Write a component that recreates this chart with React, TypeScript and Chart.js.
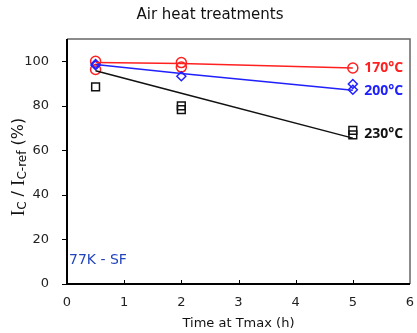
import React, { useEffect, useRef } from "react";
import { Chart, registerables } from "chart.js";

Chart.register(...registerables);

const hours = [0.5, 2, 5];
const fit170 = [99.4, 99.0, 97.0];
const fit200 = [98.5, 94.5, 87.0];
const fit230 = [95.7, 85.6, 65.5];

const m170x = [0.5, 0.5, 2, 2, 5];
const m170y = [100.0, 96.3, 99.4, 97.4, 97.0];
const m200x = [0.5, 0.5, 2, 5, 5];
const m200y = [98.8, 98.2, 93.3, 89.8, 87.2];
const m230x = [0.5, 2, 2, 5, 5];
const m230y = [88.5, 80.0, 78.3, 69.0, 67.0];

const seriesLabels = ["170°C", "200°C", "230°C"];
const seriesColors = ["#ff2020", "#2020ff", "#111111"];
const seriesLabelY = [97, 86.7, 67.5];
const annotation = "77K - SF";
const title = "Air heat treatments";
const xTitle = "Time at Tmax (h)";
const yTicksMax = 100;

const pts = (xs: number[], ys: number[]) => xs.map((x, i) => ({ x, y: ys[i] }));

export default function App() {
  const ref = useRef<HTMLCanvasElement>(null);
  useEffect(() => {
    document.body.style.margin = "0";
    const canvas = ref.current!;
    const decor = {
      id: "decor",
      afterDraw(chart: any) {
        const ctx = chart.ctx as CanvasRenderingContext2D;
        const { left, right, top, bottom } = chart.chartArea;
        const xs = chart.scales.x;
        const ys = chart.scales.y;
        ctx.save();
        // frame top/right
        ctx.strokeStyle = "#666";
        ctx.lineWidth = 1.5;
        ctx.beginPath();
        ctx.moveTo(left, top);
        ctx.lineTo(right, top);
        ctx.lineTo(right, bottom);
        ctx.stroke();
        // axes
        ctx.strokeStyle = "#000";
        ctx.lineWidth = 2;
        ctx.beginPath();
        ctx.moveTo(left, top);
        ctx.lineTo(left, bottom);
        ctx.lineTo(right, bottom);
        ctx.stroke();
        // ticks
        ctx.lineWidth = 1;
        ctx.beginPath();
        for (const t of ys.ticks) {
          const y = Math.round(ys.getPixelForValue(t.value)) + 0.5;
          ctx.moveTo(left - 5, y);
          ctx.lineTo(left, y);
        }
        for (const t of xs.ticks) {
          if (t.value <= 0 || t.value >= 6) continue;
          const x = Math.round(xs.getPixelForValue(t.value)) + 0.5;
          ctx.moveTo(x, bottom);
          ctx.lineTo(x, bottom - 4);
        }
        ctx.stroke();
        // x tick labels
        ctx.font = "13px 'DejaVu Sans'";
        ctx.fillStyle = "#222";
        ctx.textAlign = "center";
        ctx.textBaseline = "middle";
        for (const t of xs.ticks) {
          ctx.fillText(String(t.value), xs.getPixelForValue(t.value), bottom + 19);
        }
        // series labels
        ctx.font = "bold 14px 'Open Sans'";
        ctx.textAlign = "left";
        ctx.textBaseline = "middle";
        seriesLabels.forEach((s, i) => {
          ctx.fillStyle = seriesColors[i];
          ctx.fillText(s, xs.getPixelForValue(5.2), ys.getPixelForValue(seriesLabelY[i]));
        });
        // annotation
        ctx.font = "14px 'DejaVu Sans'";
        ctx.fillStyle = "#2244bb";
        ctx.fillText(annotation, left + 2, ys.getPixelForValue(10.8));
        // title
        ctx.font = "15px 'DejaVu Sans'";
        ctx.fillStyle = "#111";
        ctx.textAlign = "center";
        ctx.fillText(title, 210, 15);
        // x title
        ctx.font = "13px 'DejaVu Sans'";
        ctx.fillText(xTitle, (left + right) / 2, 324);
        // y title
        ctx.translate(19, 167);
        ctx.rotate(-Math.PI / 2);
        const serif = "19px 'Liberation Serif'";
        const sans = "16px 'DejaVu Sans'";
        const small = "12px 'DejaVu Sans'";
        const parts: [string, string, number][] = [
          ["I", serif, 0],
          ["C", small, 4],
          [" / ", sans, 0],
          ["I", serif, 0],
          ["C-ref", small, 4],
          [" (%)", sans, 0],
        ];
        let w = 0;
        for (const [t, f] of parts) {
          ctx.font = f;
          w += ctx.measureText(t).width;
        }
        let x = -w / 2;
        ctx.textAlign = "left";
        ctx.textBaseline = "middle";
        ctx.fillStyle = "#111";
        for (const [t, f, dy] of parts) {
          ctx.font = f;
          ctx.fillText(t, x, dy);
          x += ctx.measureText(t).width;
        }
        ctx.restore();
      },
    };
    const lineDs = (data: number[], color: string) => ({
      data: pts(hours, data),
      showLine: true,
      borderColor: color,
      borderWidth: 1.5,
      pointRadius: 0,
      fill: false,
    });
    const markDs = (xs: number[], ys: number[], color: string, style: string, r: number) => ({
      data: pts(xs, ys),
      showLine: false,
      pointStyle: style,
      pointRadius: r,
      pointBorderColor: color,
      pointBackgroundColor: "rgba(255,255,255,0)",
      pointBorderWidth: 1.5,
      borderColor: color,
    });
    const chart = new Chart(canvas, {
      type: "scatter",
      data: {
        datasets: [
          lineDs(fit230, seriesColors[2]),
          lineDs(fit200, seriesColors[1]),
          lineDs(fit170, seriesColors[0]),
          markDs(m230x, m230y, seriesColors[2], "rect", 5.5),
          markDs(m200x, m200y, seriesColors[1], "rectRot", 4.5),
          markDs(m170x, m170y, seriesColors[0], "circle", 5),
        ] as any,
      },
      options: {
        animation: false,
        responsive: false,
        events: [],
        layout: { padding: { top: 39, right: 4, left: 0, bottom: 0 } },
        plugins: { legend: { display: false }, tooltip: { enabled: false }, title: { display: false } },
        scales: {
          x: {
            type: "linear",
            min: 0,
            max: 6,
            grid: { display: false },
            border: { display: false },
            ticks: { display: false, stepSize: 1 },
            afterFit: (s: any) => {
              s.height = 49;
            },
          },
          y: {
            type: "linear",
            min: 0,
            max: 110,
            grid: { display: false },
            border: { display: false },
            ticks: { stepSize: 20, padding: 10, color: "#222", font: { family: "'DejaVu Sans'", size: 13 } },
            afterBuildTicks: (s: any) => {
              s.ticks = s.ticks.filter((t: any) => t.value <= yTicksMax);
            },
            afterFit: (s: any) => {
              s.width = 67;
            },
          },
        },
      },
      plugins: [decor],
    } as any);
    return () => chart.destroy();
  }, []);
  return <canvas ref={ref} width={417} height={333} style={{ display: "block" }} />;
}
